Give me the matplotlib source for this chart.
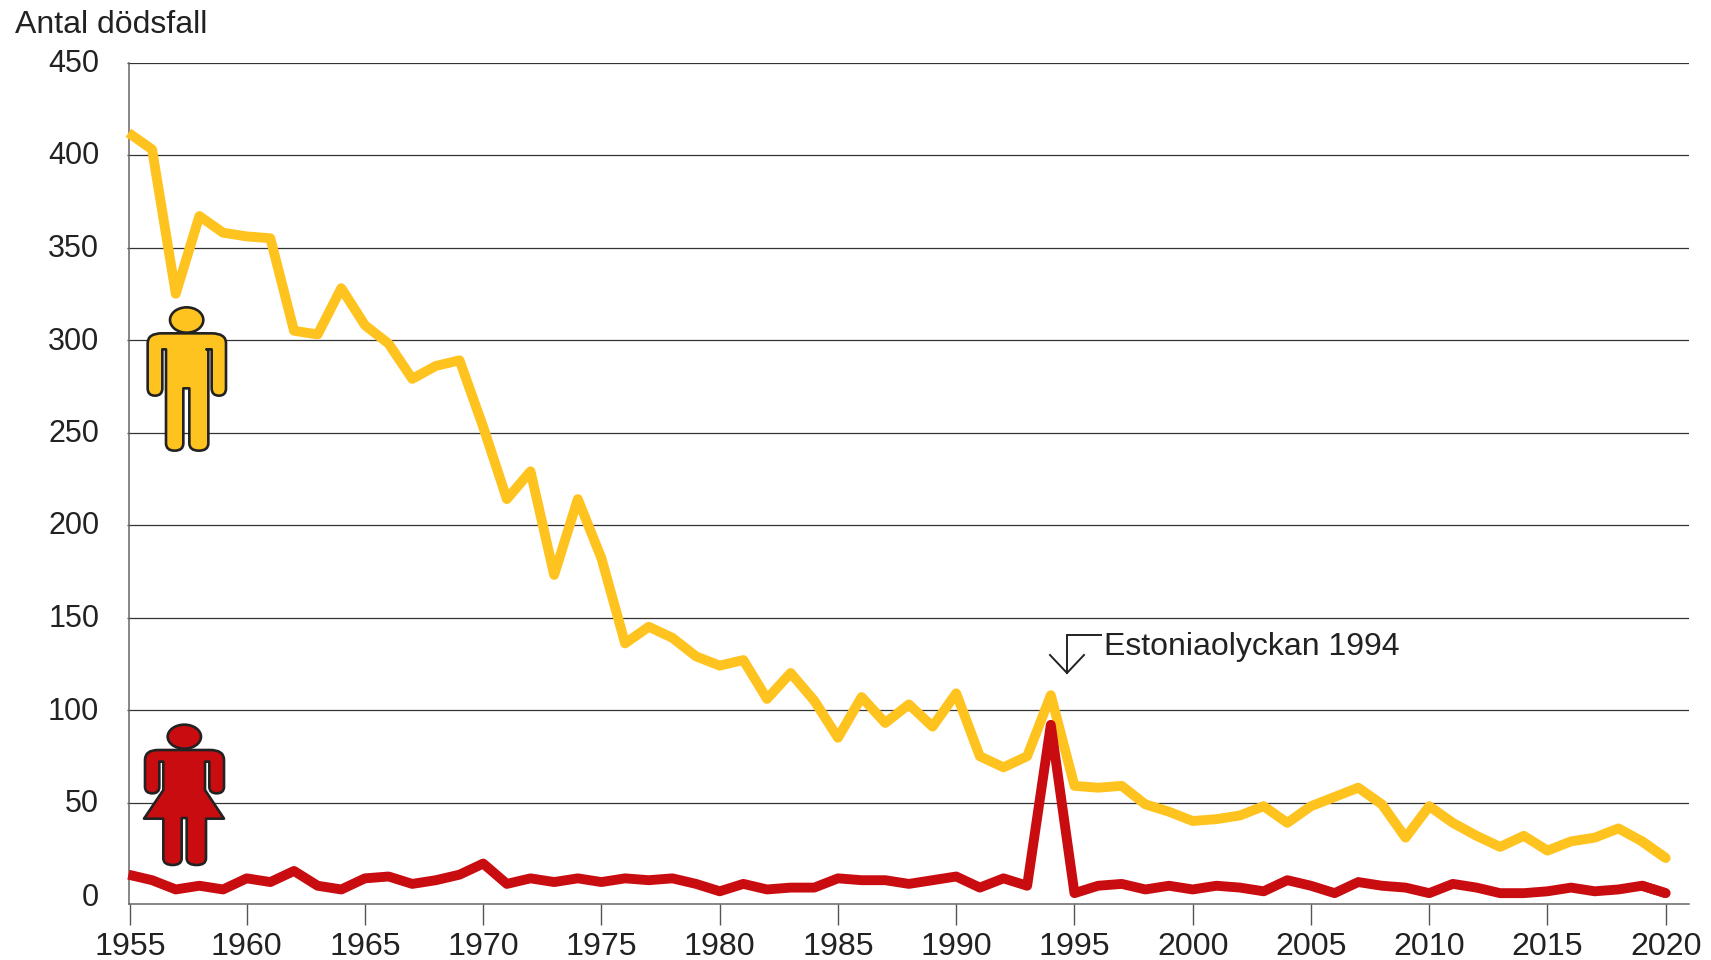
import matplotlib
matplotlib.use("Agg")
import matplotlib.pyplot as plt
from matplotlib.path import Path
from matplotlib.patches import PathPatch, Ellipse
from matplotlib.lines import Line2D
from matplotlib.transforms import Affine2D, ScaledTranslation

plt.rcParams['font.family'] = ['Liberation Sans', 'DejaVu Sans']

years = list(range(1955, 2021))
men = [412, 403, 325, 367, 358, 356, 355, 305, 303, 328,
       308, 298, 279, 286, 289, 253, 214, 229, 173, 214,
       182, 136, 145, 139, 129, 124, 127, 106, 120, 105,
       85, 107, 93, 103, 91, 109, 75, 69, 75, 108,
       59, 58, 59, 49, 45, 40, 41, 43, 48, 39,
       48, 53, 58, 49, 31, 48, 39, 32, 26, 32,
       24, 29, 31, 36, 29, 20]
women = [11, 8, 3, 5, 3, 9, 7, 13, 5, 3,
         9, 10, 6, 8, 11, 17, 6, 9, 7, 9,
         7, 9, 8, 9, 6, 2, 6, 3, 4, 4,
         9, 8, 8, 6, 8, 10, 4, 9, 5, 92,
         1, 5, 6, 3, 5, 3, 5, 4, 2, 8,
         5, 1, 7, 5, 4, 1, 6, 4, 1, 1,
         2, 4, 2, 3, 5, 1]
y_ticks = [0, 50, 100, 150, 200, 250, 300, 350, 400, 450]
x_ticks = list(range(1955, 2021, 5))
y_title = "Antal dödsfall"
note = "Estoniaolyckan 1994"

W, H = 1711, 960
YELLOW = '#FFC31F'
RED = '#C90C0F'
INK = '#222222'

fig = plt.figure(figsize=(W / 100, H / 100), dpi=100, facecolor='white')
L, R, T, B = 129, 1689, 62.5, 904
ax = fig.add_axes([L / W, 1 - B / H, (R - L) / W, (B - T) / H])

px_per_year = 23.65
ax.set_xlim(2020 - (1665.7 - L) / px_per_year, 2020 + (R - 1665.7) / px_per_year)
ax.set_ylim(-(B - 895) / 1.85, 450)

for s in ('top', 'right'):
    ax.spines[s].set_visible(False)
for s in ('left', 'bottom'):
    ax.spines[s].set_color('#666666')
    ax.spines[s].set_linewidth(1.1)

# the first tick sits just right of the vertical axis in the original
ax.set_xticks([x + 0.07 if x == 1955 else x for x in x_ticks], [str(x) for x in x_ticks])
ax.set_yticks(y_ticks)
ax.tick_params(axis='x', length=15, width=1.0, color='#555555', labelsize=23.1,
               labelcolor=INK, pad=5)
ax.tick_params(axis='y', length=1.5, width=0.9, color='#333333', labelsize=22,
               labelcolor=INK, pad=20)
ax.grid(axis='y', color='#333333', lw=0.9, zorder=1)
ax.grid(axis='x', visible=False)
ax.set_axisbelow(True)
ax.yaxis.get_gridlines()[0].set_visible(False)
ax.yaxis.get_major_ticks()[0].tick1line.set_visible(False)
up = ScaledTranslation(0, 2 / 100, fig.dpi_scale_trans)
for lab in ax.get_yticklabels()[1:]:
    lab.set_transform(lab.get_transform() + up)

LW = 7.1
for vals, col, z in ((men, YELLOW, 3), (women, RED, 4)):
    ax.plot(years, vals, color=col, lw=LW, solid_joinstyle='round',
            solid_capstyle='butt', clip_on=False, zorder=z)
    ax.plot(years[-2:], vals[-2:], color=col, lw=LW, solid_capstyle='round',
            clip_on=False, zorder=z)

# pixel coordinates (origin top-left) for the pictograms and the callout
px = Affine2D().scale(1 / W, -1 / H).translate(0, 1) + fig.transFigure


def rounded(points):
    """points: (x, y, kind), kind 'L' = line vertex, 'C' = curve control point."""
    verts, codes = [], []
    for i, (x, y, k) in enumerate(points):
        verts.append((x, y))
        if i == 0:
            codes.append(Path.MOVETO)
        elif k == 'C':
            codes.append(Path.CURVE3)
        elif points[i - 1][2] == 'C':
            codes.append(Path.CURVE3)
        else:
            codes.append(Path.LINETO)
    verts.append(verts[0])
    codes.append(Path.CLOSEPOLY)
    return Path(verts, codes)


def icon(points, head, origin, color):
    t = Affine2D().scale(1 / 3).translate(*origin) + px
    fig.add_artist(PathPatch(rounded(points), transform=t, facecolor=color,
                             edgecolor=INK, lw=1.9, joinstyle='round', zorder=6))
    cx, cy, w, h = head
    fig.add_artist(Ellipse((cx, cy), w, h, transform=t, facecolor=color,
                           edgecolor=INK, lw=1.9, zorder=6))


man = [(143, 190, 'L'), (143, 160, 'C'), (185, 160, 'L'), (335, 160, 'L'),
       (378, 160, 'C'), (378, 190, 'L'), (378, 325, 'L'), (378, 347, 'C'),
       (357, 347, 'L'), (335, 347, 'C'), (335, 325, 'L'), (335, 208, 'L'),
       (320, 208, 'L'), (325, 208, 'L'), (325, 490, 'L'), (325, 512, 'C'),
       (297, 512, 'L'), (268, 512, 'C'), (268, 490, 'L'), (268, 325, 'L'),
       (250, 325, 'L'), (250, 490, 'L'), (250, 512, 'C'), (224, 512, 'L'),
       (198, 512, 'C'), (198, 490, 'L'), (198, 208, 'L'), (187, 208, 'L'),
       (187, 325, 'L'), (187, 347, 'C'), (165, 347, 'L'), (143, 347, 'C'),
       (143, 325, 'L')]
woman = [(135, 180, 'L'), (135, 150, 'C'), (175, 150, 'L'), (330, 150, 'L'),
         (372, 150, 'C'), (372, 180, 'L'), (372, 260, 'L'), (372, 280, 'C'),
         (350, 280, 'L'), (328, 280, 'C'), (328, 260, 'L'), (328, 185, 'L'),
         (315, 185, 'L'), (315, 270, 'L'), (372, 356, 'L'), (318, 356, 'L'),
         (318, 475, 'L'), (318, 495, 'C'), (290, 495, 'L'), (260, 495, 'C'),
         (260, 475, 'L'), (260, 354, 'L'), (245, 354, 'L'), (245, 475, 'L'),
         (245, 495, 'C'), (218, 495, 'L'), (190, 495, 'C'), (190, 475, 'L'),
         (190, 356, 'L'), (132, 356, 'L'), (190, 270, 'L'), (190, 185, 'L'),
         (178, 185, 'L'), (178, 260, 'L'), (178, 280, 'C'), (157, 280, 'L'),
         (135, 280, 'C'), (135, 260, 'L')]
icon(man, (260, 120, 100, 76), (100, 280), YELLOW)
icon(woman, (253, 110, 100, 72), (100, 700), RED)

# callout arrow
for xs, ys in (([1101, 1067, 1067], [634.5, 634.5, 673]),
               ([1050, 1067, 1084], [655, 673, 655])):
    fig.add_artist(Line2D(xs, ys, transform=px, color=INK, lw=1.4,
                          solid_joinstyle='miter', zorder=7))
fig.text(1104 / W, 1 - 655 / H, note, fontsize=23, color=INK, ha='left',
         va='baseline')
fig.text(15 / W, 1 - 33 / H, y_title, fontsize=23, color=INK, ha='left',
         va='baseline')

fig.savefig('out.png', dpi=100, facecolor='white')
